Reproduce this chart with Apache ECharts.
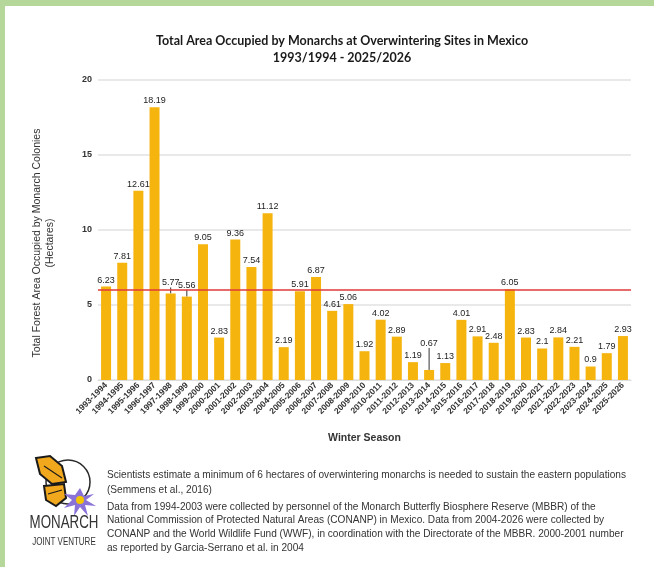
<!DOCTYPE html>
<html>
<head>
<meta charset="utf-8">
<script src="https://cdn.jsdelivr.net/npm/echarts@6/dist/echarts.min.js"></script>
<style>
html,body{margin:0;padding:0;background:#fff;}
#frame{position:absolute;left:0;top:0;width:654px;height:567px;background:#b5d89a;}
#chart{position:absolute;left:5px;top:6px;width:649px;height:561px;background:#fff;}
</style>
</head>
<body>
<div id="frame"></div>
<div id="chart"></div>
<script>
const seasons = ["1993-1994","1994-1995","1995-1996","1996-1997","1997-1998","1998-1999","1999-2000","2000-2001","2001-2002","2002-2003","2003-2004","2004-2005","2005-2006","2006-2007","2007-2008","2008-2009","2009-2010","2010-2011","2011-2012","2012-2013","2013-2014","2014-2015","2015-2016","2016-2017","2017-2018","2018-2019","2019-2020","2020-2021","2021-2022","2022-2023","2023-2024","2024-2025","2025-2026"];
const hectares = [6.23,7.81,12.61,18.19,5.77,5.56,9.05,2.83,9.36,7.54,11.12,2.19,5.91,6.87,4.61,5.06,1.92,4.02,2.89,1.19,0.67,1.13,4.01,2.91,2.48,6.05,2.83,2.1,2.84,2.21,0.9,1.79,2.93];
const threshold = 6;
const yTicks = [0,5,10,15,20];
const raisedLabels = {"1997-1998":4, "1998-1999":5, "2013-2014":20};

const chart = echarts.init(document.getElementById('chart'), null, {renderer:'canvas'});
const dx = -5, dy = -6; // offset of chart div in page

const barData = hectares.map((v,i)=>{
  const o = {value:v};
  if (raisedLabels[seasons[i]] !== undefined) {
    o.labelLine = {show:true, lineStyle:{color:'#333', width:1}};
  }
  return o;
});

chart.setOption({
  animation:false,
  title:{
    text:'Total Area Occupied by Monarchs at Overwintering Sites in Mexico\n1993/1994 - 2025/2026',
    left:337+dx, top:27+dy, textAlign:'center',
    textStyle:{fontFamily:'Lato', fontWeight:'bold', fontSize:12.5, color:'#1a1a1a', lineHeight:17}
  },
  grid:{left:98+dx, right:23, top:80+dy, bottom:187},
  xAxis:{
    type:'category', data:seasons,
    axisLine:{show:true, lineStyle:{color:'#ddd'}},
    axisTick:{show:false},
    axisLabel:{rotate:45, interval:0, fontSize:8.5, fontWeight:'bold', color:'#333', fontFamily:'Liberation Sans', margin:4},
    name:'Winter Season', nameLocation:'middle', nameGap:53,
    nameTextStyle:{fontFamily:'Liberation Sans', fontWeight:'bold', fontSize:10.5, color:'#333'}
  },
  yAxis:{
    type:'value', min:yTicks[0], max:yTicks[yTicks.length-1], interval:5,
    axisLine:{show:false}, axisTick:{show:false},
    axisLabel:{fontSize:9, color:'#333', fontFamily:'Liberation Sans', fontWeight:'bold', margin:6},
    splitLine:{show:true, lineStyle:{color:'#e2e2e2', width:1.5}},
    showMaxLabel:true
  },
  series:[{
    type:'bar', data:barData, barWidth:10,
    itemStyle:{color:'#f6b40f'},
    label:{show:true, position:'top', distance:2, fontSize:9, color:'#222', fontFamily:'Liberation Sans'},
    labelLayout:function(p){
      const k = seasons[p.dataIndex];
      if (raisedLabels[k] !== undefined) return {dy:-raisedLabels[k]};
      return {};
    },
    labelLine:{show:false},
    markLine:{
      silent:true, symbol:'none', label:{show:false},
      lineStyle:{color:'#e03a3a', width:1.5, type:'solid'},
      data:[{yAxis:threshold}]
    }
  }],
  graphic:[
    {type:'text', x:37+dx, y:243+dy, rotation:Math.PI/2,
     style:{text:'Total Forest Area Occupied by Monarch Colonies', fontSize:10.5, fontFamily:'Liberation Sans', fill:'#333', align:'center', verticalAlign:'middle'}},
    {type:'text', x:50+dx, y:243+dy, rotation:Math.PI/2,
     style:{text:'(Hectares)', fontSize:10.5, fontFamily:'Liberation Sans', fill:'#333', align:'center', verticalAlign:'middle'}},
    // footer text
    {type:'text', x:107+dx, y:475+dy,
     style:{text:'Scientists estimate a minimum of 6 hectares of overwintering monarchs is needed to sustain the eastern populations', fontSize:10.1, fontFamily:'Liberation Sans', fill:'#333', verticalAlign:'middle'}},
    {type:'text', x:107+dx, y:490+dy,
     style:{text:'(Semmens et al., 2016)', fontSize:10.1, fontFamily:'Liberation Sans', fill:'#333', verticalAlign:'middle'}},
    {type:'text', x:107+dx, y:500+dy,
     style:{text:'Data from 1994-2003 were collected by personnel of the Monarch Butterfly Biosphere Reserve (MBBR) of the\nNational Commission of Protected Natural Areas (CONANP) in Mexico. Data from 2004-2026 were collected by\nCONANP and the World Wildlife Fund (WWF), in coordination with the Directorate of the MBBR. 2000-2001 number\nas reported by Garcia-Serrano et al. in 2004', fontSize:10.1, lineHeight:13.7, fontFamily:'Liberation Sans', fill:'#333', verticalAlign:'top'}},
    // logo
    {type:'circle', shape:{cx:68+dx, cy:482+dy, r:22}, style:{fill:'none', stroke:'#2a2a2a', lineWidth:1.5}},
    {type:'polygon', shape:{points:[[36+dx,458+dy],[50+dx,456+dy],[62+dx,466+dy],[66+dx,482+dy],[52+dx,484+dy],[40+dx,474+dy]]}, style:{fill:'#f2a81d', stroke:'#1a1a1a', lineWidth:2}},
    {type:'polygon', shape:{points:[[44+dx,486+dy],[64+dx,484+dy],[66+dx,498+dy],[56+dx,506+dy],[46+dx,500+dy]]}, style:{fill:'#f2a81d', stroke:'#1a1a1a', lineWidth:2}},
    {type:'line', shape:{x1:44+dx,y1:466+dy,x2:62+dx,y2:478+dy}, style:{stroke:'#1a1a1a', lineWidth:1.2}},
    {type:'line', shape:{x1:48+dx,y1:494+dy,x2:62+dx,y2:490+dy}, style:{stroke:'#1a1a1a', lineWidth:1.2}},
    {type:'polygon', shape:{points:[[80+dx,488+dy],[84+dx,496+dy],[94+dx,494+dy],[86+dx,500+dy],[96+dx,506+dy],[85+dx,505+dy],[88+dx,516+dy],[80+dx,507+dy],[74+dx,516+dy],[75+dx,505+dy],[64+dx,508+dy],[72+dx,500+dy],[64+dx,494+dy],[75+dx,495+dy]]}, style:{fill:'#8a72d6'}},
    {type:'circle', shape:{cx:80+dx, cy:500+dy, r:4}, style:{fill:'#f5c400'}},
    {type:'text', x:64+dx, y:523+dy, scaleX:0.74, style:{text:'MONARCH', fontSize:18, fontFamily:'Liberation Sans', fill:'#333', align:'center', verticalAlign:'middle'}},
    {type:'text', x:64+dx, y:542+dy, scaleX:0.76, style:{text:'JOINT VENTURE', fontSize:10.5, fontFamily:'Liberation Sans', fill:'#333', align:'center', verticalAlign:'middle'}}
  ]
});
</script>
</body>
</html>
